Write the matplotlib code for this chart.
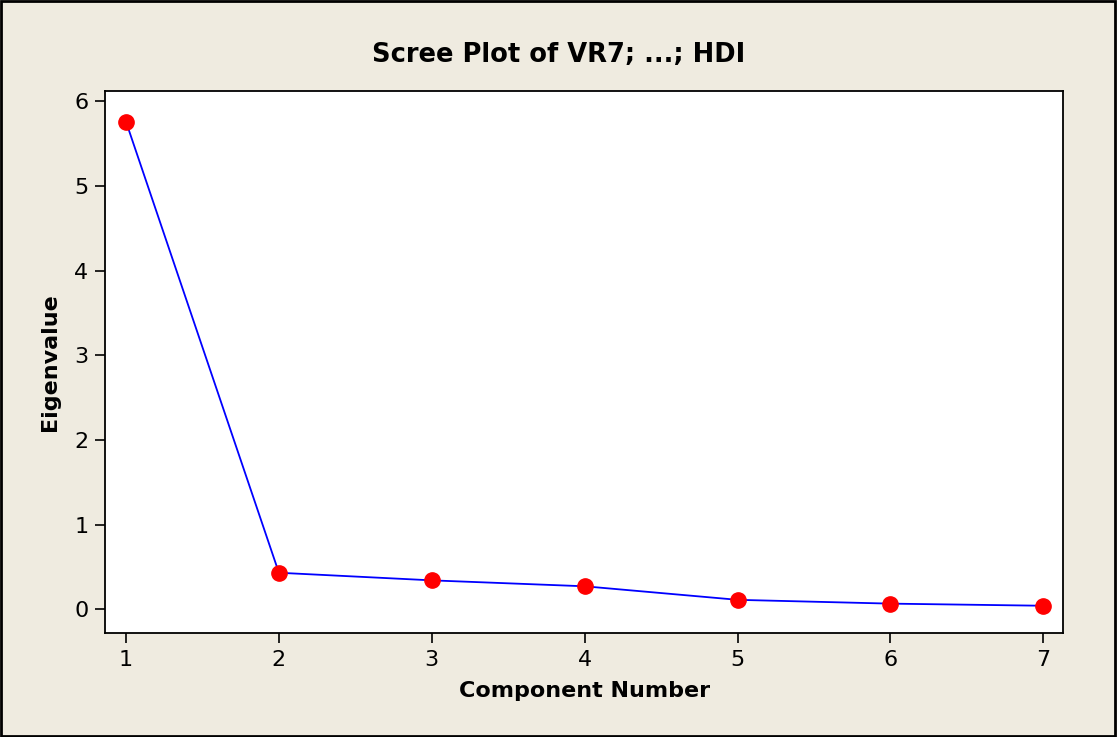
import matplotlib.pyplot as plt
from matplotlib.patches import Rectangle

# Scree plot data
components = [1, 2, 3, 4, 5, 6, 7]
eigenvalues = [5.76, 0.43, 0.34, 0.27, 0.11, 0.065, 0.04]
y_ticks = [0, 1, 2, 3, 4, 5, 6]

bg = "#efebe0"

fig = plt.figure(figsize=(11.17, 7.37), dpi=100, facecolor=bg)
ax = fig.add_axes([0.094, 0.141, 0.858, 0.735])
ax.set_facecolor("white")

ax.plot(components, eigenvalues, color="blue", linewidth=1.3, zorder=2)
ax.plot(components, eigenvalues, "o", color="red", markersize=11, zorder=3)

ax.set_xlim(0.8626, 7.131)
ax.set_ylim(-0.283, 6.118)
ax.set_xticks(components)
ax.set_yticks(y_ticks)
ax.tick_params(direction="out", length=7, width=1.2, labelsize=16, pad=5)

for s in ax.spines.values():
    s.set_linewidth(1.3)

# title is centred on the whole figure
fig.text(0.5, 0.925, "Scree Plot of VR7; ...; HDI", fontsize=18.5, fontweight="bold",
         ha="center", va="center")
ax.set_xlabel("Component Number", fontsize=16, fontweight="bold", labelpad=8)
ax.set_ylabel("Eigenvalue", fontsize=16, fontweight="bold", labelpad=10)

# outer frame around the whole picture
fig.patches.append(Rectangle((0.001, 0.002), 0.997, 0.996, transform=fig.transFigure,
                             fill=False, edgecolor="black", linewidth=2))

fig.savefig("out.png", dpi=100, facecolor=bg)
